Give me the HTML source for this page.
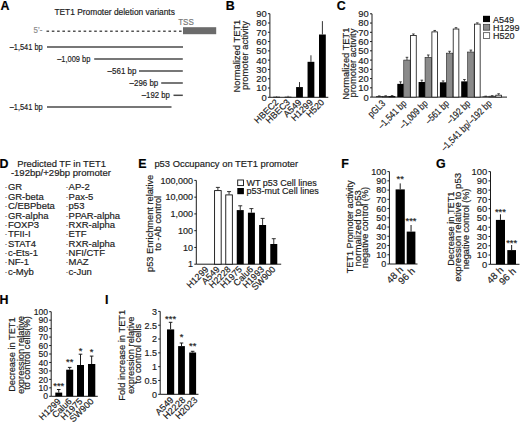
<!DOCTYPE html>
<html><head><meta charset="utf-8"><title>TET1 promoter figure</title>
<style>
html,body{margin:0;padding:0;background:#fff;}
body{width:520px;height:423px;overflow:hidden;}
svg{display:block;font-family:"Liberation Sans", sans-serif;}
text{stroke-width:0.18px;}
</style></head>
<body>
<svg width="520" height="423" viewBox="0 0 520 423" fill="#1c1c1c">
<rect width="520" height="423" fill="#fff"/>
<text x="0.40" y="9.90" font-size="12.4" fill="#000" stroke="#000" font-weight="bold">A</text>
<text x="54.40" y="15.40" font-size="8.6" stroke="#1c1c1c" textLength="120.50" lengthAdjust="spacingAndGlyphs">TET1 Promoter deletion variants</text>
<text x="33.60" y="33.40" font-size="8.8" fill="#8c8c8c" stroke="#8c8c8c" textLength="8.80" lengthAdjust="spacingAndGlyphs">5’-</text>
<text x="178.20" y="25.00" font-size="9.2" fill="#777" stroke="#777" textLength="15.60" lengthAdjust="spacingAndGlyphs">TSS</text>
<line x1="46.50" y1="31.30" x2="183.00" y2="31.30" stroke="#555" stroke-width="1.4" stroke-dasharray="2.6 2.7"/>
<rect x="183.00" y="27.20" width="33.20" height="7.00" fill="#6b6b6b"/>
<line x1="47.00" y1="47.00" x2="183.00" y2="47.00" stroke="#4a4a4a" stroke-width="1.5"/>
<text x="42.70" y="49.90" font-size="8.8" text-anchor="end" stroke="#1c1c1c" textLength="33.00" lengthAdjust="spacingAndGlyphs">–1,541 bp</text>
<line x1="94.20" y1="59.00" x2="182.80" y2="59.00" stroke="#4a4a4a" stroke-width="1.5"/>
<text x="90.40" y="61.90" font-size="8.8" text-anchor="end" stroke="#1c1c1c" textLength="33.20" lengthAdjust="spacingAndGlyphs">–1,009 bp</text>
<line x1="139.00" y1="70.90" x2="182.80" y2="70.90" stroke="#4a4a4a" stroke-width="1.5"/>
<text x="136.40" y="73.80" font-size="8.8" text-anchor="end" stroke="#1c1c1c" textLength="28.80" lengthAdjust="spacingAndGlyphs">–561 bp</text>
<line x1="161.20" y1="83.00" x2="182.80" y2="83.00" stroke="#4a4a4a" stroke-width="1.5"/>
<text x="158.20" y="85.90" font-size="8.8" text-anchor="end" stroke="#1c1c1c" textLength="28.60" lengthAdjust="spacingAndGlyphs">–296 bp</text>
<line x1="173.50" y1="95.30" x2="182.80" y2="95.30" stroke="#4a4a4a" stroke-width="1.5"/>
<text x="169.80" y="98.20" font-size="8.8" text-anchor="end" stroke="#1c1c1c" textLength="28.00" lengthAdjust="spacingAndGlyphs">–192 bp</text>
<line x1="47.00" y1="106.90" x2="171.50" y2="106.90" stroke="#4a4a4a" stroke-width="1.5"/>
<text x="42.70" y="109.80" font-size="8.8" text-anchor="end" stroke="#1c1c1c" textLength="33.00" lengthAdjust="spacingAndGlyphs">–1,541 bp</text>
<text x="225.70" y="9.70" font-size="12.4" fill="#000" stroke="#000" font-weight="bold">B</text>
<line x1="269.90" y1="13.70" x2="269.90" y2="97.30" stroke="#1c1c1c" stroke-width="1.0"/>
<line x1="267.90" y1="97.30" x2="269.90" y2="97.30" stroke="#1c1c1c" stroke-width="1.0"/>
<text x="266.70" y="100.74" font-size="9.68" text-anchor="end" stroke="#1c1c1c" textLength="5.23" lengthAdjust="spacingAndGlyphs">0</text>
<line x1="267.90" y1="88.01" x2="269.90" y2="88.01" stroke="#1c1c1c" stroke-width="1.0"/>
<text x="266.70" y="91.45" font-size="9.68" text-anchor="end" stroke="#1c1c1c" textLength="10.45" lengthAdjust="spacingAndGlyphs">10</text>
<line x1="267.90" y1="78.72" x2="269.90" y2="78.72" stroke="#1c1c1c" stroke-width="1.0"/>
<text x="266.70" y="82.16" font-size="9.68" text-anchor="end" stroke="#1c1c1c" textLength="10.45" lengthAdjust="spacingAndGlyphs">20</text>
<line x1="267.90" y1="69.43" x2="269.90" y2="69.43" stroke="#1c1c1c" stroke-width="1.0"/>
<text x="266.70" y="72.87" font-size="9.68" text-anchor="end" stroke="#1c1c1c" textLength="10.45" lengthAdjust="spacingAndGlyphs">30</text>
<line x1="267.90" y1="60.14" x2="269.90" y2="60.14" stroke="#1c1c1c" stroke-width="1.0"/>
<text x="266.70" y="63.58" font-size="9.68" text-anchor="end" stroke="#1c1c1c" textLength="10.45" lengthAdjust="spacingAndGlyphs">40</text>
<line x1="267.90" y1="50.86" x2="269.90" y2="50.86" stroke="#1c1c1c" stroke-width="1.0"/>
<text x="266.70" y="54.29" font-size="9.68" text-anchor="end" stroke="#1c1c1c" textLength="10.45" lengthAdjust="spacingAndGlyphs">50</text>
<line x1="267.90" y1="41.57" x2="269.90" y2="41.57" stroke="#1c1c1c" stroke-width="1.0"/>
<text x="266.70" y="45.00" font-size="9.68" text-anchor="end" stroke="#1c1c1c" textLength="10.45" lengthAdjust="spacingAndGlyphs">60</text>
<line x1="267.90" y1="32.28" x2="269.90" y2="32.28" stroke="#1c1c1c" stroke-width="1.0"/>
<text x="266.70" y="35.71" font-size="9.68" text-anchor="end" stroke="#1c1c1c" textLength="10.45" lengthAdjust="spacingAndGlyphs">70</text>
<line x1="267.90" y1="22.99" x2="269.90" y2="22.99" stroke="#1c1c1c" stroke-width="1.0"/>
<text x="266.70" y="26.43" font-size="9.68" text-anchor="end" stroke="#1c1c1c" textLength="10.45" lengthAdjust="spacingAndGlyphs">80</text>
<line x1="267.90" y1="13.70" x2="269.90" y2="13.70" stroke="#1c1c1c" stroke-width="1.0"/>
<text x="266.70" y="17.14" font-size="9.68" text-anchor="end" stroke="#1c1c1c" textLength="10.45" lengthAdjust="spacingAndGlyphs">90</text>
<line x1="269.90" y1="97.30" x2="328.30" y2="97.30" stroke="#1c1c1c" stroke-width="1.0"/>
<rect x="273.20" y="96.74" width="6.80" height="0.56" fill="#000"/>
<line x1="276.60" y1="96.74" x2="276.60" y2="96.19" stroke="#1c1c1c" stroke-width="0.9"/>
<text x="279.10" y="102.90" font-size="9.0" text-anchor="end" stroke="#1c1c1c" transform="rotate(-45 279.10 102.90)">HBEC2</text>
<rect x="284.65" y="96.74" width="6.80" height="0.56" fill="#000"/>
<line x1="288.05" y1="96.74" x2="288.05" y2="95.81" stroke="#1c1c1c" stroke-width="0.9"/>
<text x="290.55" y="102.90" font-size="9.0" text-anchor="end" stroke="#1c1c1c" transform="rotate(-45 290.55 102.90)">HBEC3</text>
<rect x="296.10" y="87.08" width="6.80" height="10.22" fill="#000"/>
<line x1="299.50" y1="87.08" x2="299.50" y2="82.07" stroke="#1c1c1c" stroke-width="0.9"/>
<text x="302.00" y="102.90" font-size="9.0" text-anchor="end" stroke="#1c1c1c" transform="rotate(-45 302.00 102.90)">A549</text>
<rect x="307.55" y="61.82" width="6.80" height="35.48" fill="#000"/>
<line x1="310.95" y1="61.82" x2="310.95" y2="55.31" stroke="#1c1c1c" stroke-width="0.9"/>
<text x="313.45" y="102.90" font-size="9.0" text-anchor="end" stroke="#1c1c1c" transform="rotate(-45 313.45 102.90)">H1299</text>
<rect x="319.00" y="34.51" width="6.80" height="62.79" fill="#000"/>
<line x1="322.40" y1="34.51" x2="322.40" y2="21.13" stroke="#1c1c1c" stroke-width="0.9"/>
<text x="324.90" y="102.90" font-size="9.0" text-anchor="end" stroke="#1c1c1c" transform="rotate(-45 324.90 102.90)">H520</text>
<text x="240.10" y="56.05" font-size="8.8" text-anchor="middle" stroke="#1c1c1c" textLength="72.80" lengthAdjust="spacingAndGlyphs" transform="rotate(-90 240.10 56.05)">Normalized TET1</text>
<text x="248.40" y="55.55" font-size="8.8" text-anchor="middle" stroke="#1c1c1c" textLength="69.00" lengthAdjust="spacingAndGlyphs" transform="rotate(-90 248.40 55.55)">promoter activity</text>
<text x="336.80" y="9.70" font-size="12.4" fill="#000" stroke="#000" font-weight="bold">C</text>
<line x1="372.00" y1="13.80" x2="372.00" y2="97.10" stroke="#1c1c1c" stroke-width="1.0"/>
<line x1="370.00" y1="97.10" x2="372.00" y2="97.10" stroke="#1c1c1c" stroke-width="1.0"/>
<text x="368.80" y="100.54" font-size="9.68" text-anchor="end" stroke="#1c1c1c" textLength="5.23" lengthAdjust="spacingAndGlyphs">0</text>
<line x1="370.00" y1="87.84" x2="372.00" y2="87.84" stroke="#1c1c1c" stroke-width="1.0"/>
<text x="368.80" y="91.28" font-size="9.68" text-anchor="end" stroke="#1c1c1c" textLength="10.45" lengthAdjust="spacingAndGlyphs">10</text>
<line x1="370.00" y1="78.59" x2="372.00" y2="78.59" stroke="#1c1c1c" stroke-width="1.0"/>
<text x="368.80" y="82.03" font-size="9.68" text-anchor="end" stroke="#1c1c1c" textLength="10.45" lengthAdjust="spacingAndGlyphs">20</text>
<line x1="370.00" y1="69.33" x2="372.00" y2="69.33" stroke="#1c1c1c" stroke-width="1.0"/>
<text x="368.80" y="72.77" font-size="9.68" text-anchor="end" stroke="#1c1c1c" textLength="10.45" lengthAdjust="spacingAndGlyphs">30</text>
<line x1="370.00" y1="60.08" x2="372.00" y2="60.08" stroke="#1c1c1c" stroke-width="1.0"/>
<text x="368.80" y="63.51" font-size="9.68" text-anchor="end" stroke="#1c1c1c" textLength="10.45" lengthAdjust="spacingAndGlyphs">40</text>
<line x1="370.00" y1="50.82" x2="372.00" y2="50.82" stroke="#1c1c1c" stroke-width="1.0"/>
<text x="368.80" y="54.26" font-size="9.68" text-anchor="end" stroke="#1c1c1c" textLength="10.45" lengthAdjust="spacingAndGlyphs">50</text>
<line x1="370.00" y1="41.57" x2="372.00" y2="41.57" stroke="#1c1c1c" stroke-width="1.0"/>
<text x="368.80" y="45.00" font-size="9.68" text-anchor="end" stroke="#1c1c1c" textLength="10.45" lengthAdjust="spacingAndGlyphs">60</text>
<line x1="370.00" y1="32.31" x2="372.00" y2="32.31" stroke="#1c1c1c" stroke-width="1.0"/>
<text x="368.80" y="35.75" font-size="9.68" text-anchor="end" stroke="#1c1c1c" textLength="10.45" lengthAdjust="spacingAndGlyphs">70</text>
<line x1="370.00" y1="23.06" x2="372.00" y2="23.06" stroke="#1c1c1c" stroke-width="1.0"/>
<text x="368.80" y="26.49" font-size="9.68" text-anchor="end" stroke="#1c1c1c" textLength="10.45" lengthAdjust="spacingAndGlyphs">80</text>
<line x1="370.00" y1="13.80" x2="372.00" y2="13.80" stroke="#1c1c1c" stroke-width="1.0"/>
<text x="368.80" y="17.24" font-size="9.68" text-anchor="end" stroke="#1c1c1c" textLength="10.45" lengthAdjust="spacingAndGlyphs">90</text>
<line x1="372.00" y1="97.10" x2="507.00" y2="97.10" stroke="#1c1c1c" stroke-width="1.0"/>
<rect x="376.00" y="96.36" width="6.45" height="0.74" fill="#000"/>
<line x1="379.23" y1="96.36" x2="379.23" y2="95.90" stroke="#1c1c1c" stroke-width="0.8"/>
<line x1="377.93" y1="95.90" x2="380.53" y2="95.90" stroke="#1c1c1c" stroke-width="0.8"/>
<rect x="382.45" y="96.27" width="6.45" height="0.83" fill="#8a8a8a" stroke="#222" stroke-width="0.6"/>
<line x1="385.68" y1="96.27" x2="385.68" y2="95.80" stroke="#1c1c1c" stroke-width="0.8"/>
<line x1="384.38" y1="95.80" x2="386.98" y2="95.80" stroke="#1c1c1c" stroke-width="0.8"/>
<rect x="389.30" y="96.57" width="5.65" height="0.53" fill="#fff" stroke="#111" stroke-width="0.8"/>
<line x1="392.12" y1="96.17" x2="392.12" y2="95.62" stroke="#1c1c1c" stroke-width="0.8"/>
<line x1="390.82" y1="95.62" x2="393.43" y2="95.62" stroke="#1c1c1c" stroke-width="0.8"/>
<text x="385.88" y="104.10" font-size="9.8" text-anchor="end" stroke="#1c1c1c" textLength="19.80" lengthAdjust="spacingAndGlyphs" transform="rotate(-45 385.88 104.10)">pGL3</text>
<rect x="397.30" y="83.86" width="6.45" height="13.24" fill="#000"/>
<line x1="400.53" y1="83.86" x2="400.53" y2="81.83" stroke="#1c1c1c" stroke-width="0.8"/>
<line x1="399.23" y1="81.83" x2="401.83" y2="81.83" stroke="#1c1c1c" stroke-width="0.8"/>
<rect x="403.75" y="60.08" width="6.45" height="37.02" fill="#8a8a8a" stroke="#222" stroke-width="0.6"/>
<line x1="406.98" y1="60.08" x2="406.98" y2="57.30" stroke="#1c1c1c" stroke-width="0.8"/>
<line x1="405.68" y1="57.30" x2="408.28" y2="57.30" stroke="#1c1c1c" stroke-width="0.8"/>
<rect x="410.60" y="35.49" width="5.65" height="61.61" fill="#fff" stroke="#111" stroke-width="0.8"/>
<line x1="413.43" y1="35.09" x2="413.43" y2="33.98" stroke="#1c1c1c" stroke-width="0.8"/>
<line x1="412.12" y1="33.98" x2="414.73" y2="33.98" stroke="#1c1c1c" stroke-width="0.8"/>
<text x="407.18" y="104.10" font-size="9.8" text-anchor="end" stroke="#1c1c1c" textLength="36.01" lengthAdjust="spacingAndGlyphs" transform="rotate(-45 407.18 104.10)">–1,541 bp</text>
<rect x="418.60" y="82.01" width="6.45" height="15.09" fill="#000"/>
<line x1="421.83" y1="82.01" x2="421.83" y2="80.16" stroke="#1c1c1c" stroke-width="0.8"/>
<line x1="420.53" y1="80.16" x2="423.13" y2="80.16" stroke="#1c1c1c" stroke-width="0.8"/>
<rect x="425.05" y="57.30" width="6.45" height="39.80" fill="#8a8a8a" stroke="#222" stroke-width="0.6"/>
<line x1="428.28" y1="57.30" x2="428.28" y2="54.99" stroke="#1c1c1c" stroke-width="0.8"/>
<line x1="426.98" y1="54.99" x2="429.58" y2="54.99" stroke="#1c1c1c" stroke-width="0.8"/>
<rect x="431.90" y="31.88" width="5.65" height="65.22" fill="#fff" stroke="#111" stroke-width="0.8"/>
<line x1="434.73" y1="31.48" x2="434.73" y2="30.46" stroke="#1c1c1c" stroke-width="0.8"/>
<line x1="433.43" y1="30.46" x2="436.03" y2="30.46" stroke="#1c1c1c" stroke-width="0.8"/>
<text x="428.48" y="104.10" font-size="9.8" text-anchor="end" stroke="#1c1c1c" textLength="36.01" lengthAdjust="spacingAndGlyphs" transform="rotate(-45 428.48 104.10)">–1,009 bp</text>
<rect x="439.90" y="82.29" width="6.45" height="14.81" fill="#000"/>
<line x1="443.12" y1="82.29" x2="443.12" y2="80.90" stroke="#1c1c1c" stroke-width="0.8"/>
<line x1="441.82" y1="80.90" x2="444.43" y2="80.90" stroke="#1c1c1c" stroke-width="0.8"/>
<rect x="446.35" y="53.14" width="6.45" height="43.96" fill="#8a8a8a" stroke="#222" stroke-width="0.6"/>
<line x1="449.57" y1="53.14" x2="449.57" y2="51.28" stroke="#1c1c1c" stroke-width="0.8"/>
<line x1="448.27" y1="51.28" x2="450.88" y2="51.28" stroke="#1c1c1c" stroke-width="0.8"/>
<rect x="453.20" y="29.01" width="5.65" height="68.09" fill="#fff" stroke="#111" stroke-width="0.8"/>
<line x1="456.02" y1="28.61" x2="456.02" y2="27.68" stroke="#1c1c1c" stroke-width="0.8"/>
<line x1="454.72" y1="27.68" x2="457.32" y2="27.68" stroke="#1c1c1c" stroke-width="0.8"/>
<text x="449.77" y="104.10" font-size="9.8" text-anchor="end" stroke="#1c1c1c" textLength="29.26" lengthAdjust="spacingAndGlyphs" transform="rotate(-45 449.77 104.10)">–561 bp</text>
<rect x="461.20" y="81.37" width="6.45" height="15.73" fill="#000"/>
<line x1="464.43" y1="81.37" x2="464.43" y2="79.51" stroke="#1c1c1c" stroke-width="0.8"/>
<line x1="463.12" y1="79.51" x2="465.73" y2="79.51" stroke="#1c1c1c" stroke-width="0.8"/>
<rect x="467.65" y="52.03" width="6.45" height="45.07" fill="#8a8a8a" stroke="#222" stroke-width="0.6"/>
<line x1="470.88" y1="52.03" x2="470.88" y2="50.08" stroke="#1c1c1c" stroke-width="0.8"/>
<line x1="469.57" y1="50.08" x2="472.18" y2="50.08" stroke="#1c1c1c" stroke-width="0.8"/>
<rect x="474.50" y="24.10" width="5.65" height="73.00" fill="#fff" stroke="#111" stroke-width="0.8"/>
<line x1="477.32" y1="23.70" x2="477.32" y2="22.87" stroke="#1c1c1c" stroke-width="0.8"/>
<line x1="476.02" y1="22.87" x2="478.62" y2="22.87" stroke="#1c1c1c" stroke-width="0.8"/>
<text x="471.07" y="104.10" font-size="9.8" text-anchor="end" stroke="#1c1c1c" textLength="29.26" lengthAdjust="spacingAndGlyphs" transform="rotate(-45 471.07 104.10)">–192 bp</text>
<rect x="482.50" y="96.54" width="6.45" height="0.56" fill="#000"/>
<line x1="485.73" y1="96.54" x2="485.73" y2="96.17" stroke="#1c1c1c" stroke-width="0.8"/>
<line x1="484.43" y1="96.17" x2="487.03" y2="96.17" stroke="#1c1c1c" stroke-width="0.8"/>
<rect x="488.95" y="96.17" width="6.45" height="0.93" fill="#8a8a8a" stroke="#222" stroke-width="0.6"/>
<line x1="492.18" y1="96.17" x2="492.18" y2="95.71" stroke="#1c1c1c" stroke-width="0.8"/>
<line x1="490.88" y1="95.71" x2="493.48" y2="95.71" stroke="#1c1c1c" stroke-width="0.8"/>
<rect x="495.80" y="95.19" width="5.65" height="1.91" fill="#fff" stroke="#111" stroke-width="0.8"/>
<line x1="498.62" y1="94.79" x2="498.62" y2="93.77" stroke="#1c1c1c" stroke-width="0.8"/>
<line x1="497.32" y1="93.77" x2="499.93" y2="93.77" stroke="#1c1c1c" stroke-width="0.8"/>
<text x="492.38" y="104.10" font-size="9.8" text-anchor="end" stroke="#1c1c1c" textLength="67.52" lengthAdjust="spacingAndGlyphs" transform="rotate(-45 492.38 104.10)">–1,541 bp/–192 bp</text>
<rect x="483.00" y="15.80" width="7.00" height="6.30" fill="#000"/>
<rect x="483.40" y="24.30" width="6.30" height="5.90" fill="#8a8a8a" stroke="#333" stroke-width="0.7"/>
<rect x="483.40" y="32.70" width="6.30" height="5.90" fill="#fff" stroke="#333" stroke-width="0.7"/>
<text x="493.00" y="22.60" font-size="9.0" stroke="#1c1c1c">A549</text>
<text x="493.00" y="30.90" font-size="9.0" stroke="#1c1c1c">H1299</text>
<text x="493.00" y="39.20" font-size="9.0" stroke="#1c1c1c">H520</text>
<text x="348.80" y="63.65" font-size="8.8" text-anchor="middle" stroke="#1c1c1c" textLength="72.00" lengthAdjust="spacingAndGlyphs" transform="rotate(-90 348.80 63.65)">Normalized TET1</text>
<text x="356.00" y="63.10" font-size="8.8" text-anchor="middle" stroke="#1c1c1c" textLength="68.90" lengthAdjust="spacingAndGlyphs" transform="rotate(-90 356.00 63.10)">promoter activity</text>
<text x="-0.60" y="168.30" font-size="12.4" fill="#000" stroke="#000" font-weight="bold">D</text>
<text x="17.20" y="166.60" font-size="9.4" stroke="#1c1c1c" textLength="88.90" lengthAdjust="spacingAndGlyphs">Predicted TF in TET1</text>
<text x="10.90" y="175.50" font-size="9.4" stroke="#1c1c1c" textLength="100.00" lengthAdjust="spacingAndGlyphs">-192bp/+29bp promoter</text>
<text x="4.50" y="190.40" font-size="9.0" fill="#666" stroke="#666">·</text>
<text x="7.90" y="190.40" font-size="9.3" stroke="#1c1c1c" textLength="14.23" lengthAdjust="spacingAndGlyphs">GR</text>
<text x="65.60" y="190.40" font-size="9.0" fill="#666" stroke="#666">·</text>
<text x="68.60" y="190.40" font-size="9.3" stroke="#1c1c1c" textLength="21.09" lengthAdjust="spacingAndGlyphs">AP-2</text>
<text x="4.50" y="199.78" font-size="9.0" fill="#666" stroke="#666">·</text>
<text x="7.90" y="199.78" font-size="9.3" stroke="#1c1c1c" textLength="35.85" lengthAdjust="spacingAndGlyphs">GR-beta</text>
<text x="65.60" y="199.78" font-size="9.0" fill="#666" stroke="#666">·</text>
<text x="68.60" y="199.78" font-size="9.3" stroke="#1c1c1c" textLength="24.78" lengthAdjust="spacingAndGlyphs">Pax-5</text>
<text x="4.50" y="209.16" font-size="9.0" fill="#666" stroke="#666">·</text>
<text x="7.90" y="209.16" font-size="9.3" stroke="#1c1c1c" textLength="46.93" lengthAdjust="spacingAndGlyphs">C/EBPbeta</text>
<text x="65.60" y="209.16" font-size="9.0" fill="#666" stroke="#666">·</text>
<text x="68.60" y="209.16" font-size="9.3" stroke="#1c1c1c" textLength="15.83" lengthAdjust="spacingAndGlyphs">p53</text>
<text x="4.50" y="218.54" font-size="9.0" fill="#666" stroke="#666">·</text>
<text x="7.90" y="218.54" font-size="9.3" stroke="#1c1c1c" textLength="40.60" lengthAdjust="spacingAndGlyphs">GR-alpha</text>
<text x="65.60" y="218.54" font-size="9.0" fill="#666" stroke="#666">·</text>
<text x="68.60" y="218.54" font-size="9.3" stroke="#1c1c1c" textLength="51.50" lengthAdjust="spacingAndGlyphs">PPAR-alpha</text>
<text x="4.50" y="227.92" font-size="9.0" fill="#666" stroke="#666">·</text>
<text x="7.90" y="227.92" font-size="9.3" stroke="#1c1c1c" textLength="31.10" lengthAdjust="spacingAndGlyphs">FOXP3</text>
<text x="65.60" y="227.92" font-size="9.0" fill="#666" stroke="#666">·</text>
<text x="68.60" y="227.92" font-size="9.3" stroke="#1c1c1c" textLength="46.40" lengthAdjust="spacingAndGlyphs">RXR-alpha</text>
<text x="4.50" y="237.30" font-size="9.0" fill="#666" stroke="#666">·</text>
<text x="7.90" y="237.30" font-size="9.3" stroke="#1c1c1c" textLength="22.65" lengthAdjust="spacingAndGlyphs">TFII-I</text>
<text x="65.60" y="237.30" font-size="9.0" fill="#666" stroke="#666">·</text>
<text x="68.60" y="237.30" font-size="9.3" stroke="#1c1c1c" textLength="17.92" lengthAdjust="spacingAndGlyphs">ETF</text>
<text x="4.50" y="246.68" font-size="9.0" fill="#666" stroke="#666">·</text>
<text x="7.90" y="246.68" font-size="9.3" stroke="#1c1c1c" textLength="28.11" lengthAdjust="spacingAndGlyphs">STAT4</text>
<text x="65.60" y="246.68" font-size="9.0" fill="#666" stroke="#666">·</text>
<text x="68.60" y="246.68" font-size="9.3" stroke="#1c1c1c" textLength="46.40" lengthAdjust="spacingAndGlyphs">RXR-alpha</text>
<text x="4.50" y="256.06" font-size="9.0" fill="#666" stroke="#666">·</text>
<text x="7.90" y="256.06" font-size="9.3" stroke="#1c1c1c" textLength="30.04" lengthAdjust="spacingAndGlyphs">c-Ets-1</text>
<text x="65.60" y="256.06" font-size="9.0" fill="#666" stroke="#666">·</text>
<text x="68.60" y="256.06" font-size="9.3" stroke="#1c1c1c" textLength="36.35" lengthAdjust="spacingAndGlyphs">NFI/CTF</text>
<text x="4.50" y="265.44" font-size="9.0" fill="#666" stroke="#666">·</text>
<text x="7.90" y="265.44" font-size="9.3" stroke="#1c1c1c" textLength="21.08" lengthAdjust="spacingAndGlyphs">NF-1</text>
<text x="65.60" y="265.44" font-size="9.0" fill="#666" stroke="#666">·</text>
<text x="68.60" y="265.44" font-size="9.3" stroke="#1c1c1c" textLength="20.02" lengthAdjust="spacingAndGlyphs">MAZ</text>
<text x="4.50" y="274.82" font-size="9.0" fill="#666" stroke="#666">·</text>
<text x="7.90" y="274.82" font-size="9.3" stroke="#1c1c1c" textLength="25.82" lengthAdjust="spacingAndGlyphs">c-Myb</text>
<text x="65.60" y="274.82" font-size="9.0" fill="#666" stroke="#666">·</text>
<text x="68.60" y="274.82" font-size="9.3" stroke="#1c1c1c" textLength="23.19" lengthAdjust="spacingAndGlyphs">c-Jun</text>
<text x="138.20" y="168.20" font-size="12.4" fill="#000" stroke="#000" font-weight="bold">E</text>
<text x="154.40" y="166.90" font-size="9.4" stroke="#1c1c1c" textLength="143.70" lengthAdjust="spacingAndGlyphs">p53 Occupancy on TET1 promoter</text>
<line x1="196.30" y1="180.40" x2="196.30" y2="264.20" stroke="#1c1c1c" stroke-width="1.0"/>
<line x1="194.30" y1="264.20" x2="196.30" y2="264.20" stroke="#1c1c1c" stroke-width="1.0"/>
<text x="193.10" y="267.49" font-size="9.27" text-anchor="end" stroke="#1c1c1c" textLength="5.00" lengthAdjust="spacingAndGlyphs">1</text>
<line x1="194.30" y1="247.44" x2="196.30" y2="247.44" stroke="#1c1c1c" stroke-width="1.0"/>
<text x="193.10" y="250.73" font-size="9.27" text-anchor="end" stroke="#1c1c1c" textLength="10.01" lengthAdjust="spacingAndGlyphs">10</text>
<line x1="194.30" y1="230.68" x2="196.30" y2="230.68" stroke="#1c1c1c" stroke-width="1.0"/>
<text x="193.10" y="233.97" font-size="9.27" text-anchor="end" stroke="#1c1c1c" textLength="15.01" lengthAdjust="spacingAndGlyphs">100</text>
<line x1="194.30" y1="213.92" x2="196.30" y2="213.92" stroke="#1c1c1c" stroke-width="1.0"/>
<text x="193.10" y="217.21" font-size="9.27" text-anchor="end" stroke="#1c1c1c" textLength="22.52" lengthAdjust="spacingAndGlyphs">1,000</text>
<line x1="194.30" y1="197.16" x2="196.30" y2="197.16" stroke="#1c1c1c" stroke-width="1.0"/>
<text x="193.10" y="200.45" font-size="9.27" text-anchor="end" stroke="#1c1c1c" textLength="27.52" lengthAdjust="spacingAndGlyphs">10,000</text>
<line x1="194.30" y1="180.40" x2="196.30" y2="180.40" stroke="#1c1c1c" stroke-width="1.0"/>
<text x="193.10" y="183.69" font-size="9.27" text-anchor="end" stroke="#1c1c1c" textLength="32.53" lengthAdjust="spacingAndGlyphs">100,000</text>
<line x1="196.30" y1="264.20" x2="281.20" y2="264.20" stroke="#1c1c1c" stroke-width="1.0"/>
<text x="209.00" y="270.00" font-size="9.0" text-anchor="end" stroke="#1c1c1c" transform="rotate(-45 209.00 270.00)">H1299</text>
<rect x="214.58" y="190.60" width="6.60" height="73.60" fill="#fff" stroke="#111" stroke-width="0.9"/>
<line x1="217.88" y1="190.20" x2="217.88" y2="187.40" stroke="#1c1c1c" stroke-width="0.9"/>
<line x1="215.88" y1="187.40" x2="219.88" y2="187.40" stroke="#1c1c1c" stroke-width="0.9"/>
<text x="220.18" y="270.00" font-size="9.0" text-anchor="end" stroke="#1c1c1c" transform="rotate(-45 220.18 270.00)">A549</text>
<rect x="225.76" y="194.90" width="6.60" height="69.30" fill="#fff" stroke="#111" stroke-width="0.9"/>
<line x1="229.06" y1="194.50" x2="229.06" y2="191.60" stroke="#1c1c1c" stroke-width="0.9"/>
<line x1="227.06" y1="191.60" x2="231.06" y2="191.60" stroke="#1c1c1c" stroke-width="0.9"/>
<text x="231.36" y="270.00" font-size="9.0" text-anchor="end" stroke="#1c1c1c" transform="rotate(-45 231.36 270.00)">H2228</text>
<rect x="236.74" y="210.10" width="7.00" height="54.10" fill="#000"/>
<line x1="240.24" y1="210.10" x2="240.24" y2="205.80" stroke="#1c1c1c" stroke-width="0.9"/>
<line x1="238.24" y1="205.80" x2="242.24" y2="205.80" stroke="#1c1c1c" stroke-width="0.9"/>
<text x="242.54" y="270.00" font-size="9.0" text-anchor="end" stroke="#1c1c1c" transform="rotate(-45 242.54 270.00)">H1975</text>
<rect x="247.92" y="212.70" width="7.00" height="51.50" fill="#000"/>
<line x1="251.42" y1="212.70" x2="251.42" y2="208.60" stroke="#1c1c1c" stroke-width="0.9"/>
<line x1="249.42" y1="208.60" x2="253.42" y2="208.60" stroke="#1c1c1c" stroke-width="0.9"/>
<text x="253.72" y="270.00" font-size="9.0" text-anchor="end" stroke="#1c1c1c" transform="rotate(-45 253.72 270.00)">Calu6</text>
<rect x="259.10" y="225.00" width="7.00" height="39.20" fill="#000"/>
<line x1="262.60" y1="225.00" x2="262.60" y2="218.40" stroke="#1c1c1c" stroke-width="0.9"/>
<line x1="260.60" y1="218.40" x2="264.60" y2="218.40" stroke="#1c1c1c" stroke-width="0.9"/>
<text x="264.90" y="270.00" font-size="9.0" text-anchor="end" stroke="#1c1c1c" transform="rotate(-45 264.90 270.00)">H1993</text>
<rect x="270.28" y="244.00" width="7.00" height="20.20" fill="#000"/>
<line x1="273.78" y1="244.00" x2="273.78" y2="238.70" stroke="#1c1c1c" stroke-width="0.9"/>
<line x1="271.78" y1="238.70" x2="275.78" y2="238.70" stroke="#1c1c1c" stroke-width="0.9"/>
<text x="276.08" y="270.00" font-size="9.0" text-anchor="end" stroke="#1c1c1c" transform="rotate(-45 276.08 270.00)">SW900</text>
<rect x="237.70" y="180.00" width="5.80" height="5.60" fill="#fff" stroke="#111" stroke-width="0.9"/>
<rect x="237.30" y="188.00" width="6.60" height="6.20" fill="#000"/>
<text x="246.50" y="185.80" font-size="9.0" stroke="#1c1c1c" textLength="70.20" lengthAdjust="spacingAndGlyphs">WT p53 Cell lines</text>
<text x="246.50" y="193.70" font-size="9.0" stroke="#1c1c1c" textLength="72.20" lengthAdjust="spacingAndGlyphs">p53-mut Cell lines</text>
<text x="153.20" y="223.35" font-size="8.8" text-anchor="middle" stroke="#1c1c1c" textLength="97.20" lengthAdjust="spacingAndGlyphs" transform="rotate(-90 153.20 223.35)">p53 Enrichment relative</text>
<text x="160.70" y="223.25" font-size="8.8" text-anchor="middle" stroke="#1c1c1c" textLength="54.80" lengthAdjust="spacingAndGlyphs" transform="rotate(-90 160.70 223.25)">to -Ab control</text>
<text x="341.30" y="167.80" font-size="12.4" fill="#000" stroke="#000" font-weight="bold">F</text>
<line x1="389.40" y1="171.60" x2="389.40" y2="264.00" stroke="#1c1c1c" stroke-width="1.0"/>
<line x1="387.40" y1="264.00" x2="389.40" y2="264.00" stroke="#1c1c1c" stroke-width="1.0"/>
<text x="386.20" y="267.29" font-size="9.27" text-anchor="end" stroke="#1c1c1c" textLength="5.00" lengthAdjust="spacingAndGlyphs">0</text>
<line x1="387.40" y1="254.76" x2="389.40" y2="254.76" stroke="#1c1c1c" stroke-width="1.0"/>
<text x="386.20" y="258.05" font-size="9.27" text-anchor="end" stroke="#1c1c1c" textLength="10.01" lengthAdjust="spacingAndGlyphs">10</text>
<line x1="387.40" y1="245.52" x2="389.40" y2="245.52" stroke="#1c1c1c" stroke-width="1.0"/>
<text x="386.20" y="248.81" font-size="9.27" text-anchor="end" stroke="#1c1c1c" textLength="10.01" lengthAdjust="spacingAndGlyphs">20</text>
<line x1="387.40" y1="236.28" x2="389.40" y2="236.28" stroke="#1c1c1c" stroke-width="1.0"/>
<text x="386.20" y="239.57" font-size="9.27" text-anchor="end" stroke="#1c1c1c" textLength="10.01" lengthAdjust="spacingAndGlyphs">30</text>
<line x1="387.40" y1="227.04" x2="389.40" y2="227.04" stroke="#1c1c1c" stroke-width="1.0"/>
<text x="386.20" y="230.33" font-size="9.27" text-anchor="end" stroke="#1c1c1c" textLength="10.01" lengthAdjust="spacingAndGlyphs">40</text>
<line x1="387.40" y1="217.80" x2="389.40" y2="217.80" stroke="#1c1c1c" stroke-width="1.0"/>
<text x="386.20" y="221.09" font-size="9.27" text-anchor="end" stroke="#1c1c1c" textLength="10.01" lengthAdjust="spacingAndGlyphs">50</text>
<line x1="387.40" y1="208.56" x2="389.40" y2="208.56" stroke="#1c1c1c" stroke-width="1.0"/>
<text x="386.20" y="211.85" font-size="9.27" text-anchor="end" stroke="#1c1c1c" textLength="10.01" lengthAdjust="spacingAndGlyphs">60</text>
<line x1="387.40" y1="199.32" x2="389.40" y2="199.32" stroke="#1c1c1c" stroke-width="1.0"/>
<text x="386.20" y="202.61" font-size="9.27" text-anchor="end" stroke="#1c1c1c" textLength="10.01" lengthAdjust="spacingAndGlyphs">70</text>
<line x1="387.40" y1="190.08" x2="389.40" y2="190.08" stroke="#1c1c1c" stroke-width="1.0"/>
<text x="386.20" y="193.37" font-size="9.27" text-anchor="end" stroke="#1c1c1c" textLength="10.01" lengthAdjust="spacingAndGlyphs">80</text>
<line x1="387.40" y1="180.84" x2="389.40" y2="180.84" stroke="#1c1c1c" stroke-width="1.0"/>
<text x="386.20" y="184.13" font-size="9.27" text-anchor="end" stroke="#1c1c1c" textLength="10.01" lengthAdjust="spacingAndGlyphs">90</text>
<line x1="387.40" y1="171.60" x2="389.40" y2="171.60" stroke="#1c1c1c" stroke-width="1.0"/>
<text x="386.20" y="174.89" font-size="9.27" text-anchor="end" stroke="#1c1c1c" textLength="15.01" lengthAdjust="spacingAndGlyphs">100</text>
<line x1="389.40" y1="264.00" x2="417.50" y2="264.00" stroke="#1c1c1c" stroke-width="1.0"/>
<rect x="395.60" y="189.40" width="9.20" height="74.60" fill="#000"/>
<line x1="400.20" y1="189.40" x2="400.20" y2="183.40" stroke="#1c1c1c" stroke-width="1.0"/>
<text x="400.20" y="182.29" font-size="9.4" text-anchor="middle" stroke="#1c1c1c">**</text>
<rect x="406.70" y="231.60" width="8.70" height="32.40" fill="#000"/>
<line x1="411.05" y1="231.60" x2="411.05" y2="225.00" stroke="#1c1c1c" stroke-width="1.0"/>
<text x="411.05" y="224.39" font-size="9.4" text-anchor="middle" stroke="#1c1c1c">***</text>
<text x="403.90" y="270.40" font-size="9.8" text-anchor="end" stroke="#1c1c1c" transform="rotate(-45 403.90 270.40)">48 h</text>
<text x="415.60" y="271.60" font-size="9.8" text-anchor="end" stroke="#1c1c1c" transform="rotate(-45 415.60 271.60)">96 h</text>
<text x="353.50" y="226.85" font-size="8.8" text-anchor="middle" stroke="#1c1c1c" textLength="92.70" lengthAdjust="spacingAndGlyphs" transform="rotate(-90 353.50 226.85)">TET1 Promoter activity</text>
<text x="360.60" y="228.30" font-size="8.8" text-anchor="middle" stroke="#1c1c1c" textLength="76.40" lengthAdjust="spacingAndGlyphs" transform="rotate(-90 360.60 228.30)">normalized to p53</text>
<text x="368.00" y="227.55" font-size="8.8" text-anchor="middle" stroke="#1c1c1c" textLength="81.30" lengthAdjust="spacingAndGlyphs" transform="rotate(-90 368.00 227.55)">negative control (%)</text>
<text x="436.00" y="168.00" font-size="12.4" fill="#000" stroke="#000" font-weight="bold">G</text>
<line x1="490.50" y1="171.60" x2="490.50" y2="264.30" stroke="#1c1c1c" stroke-width="1.0"/>
<line x1="488.50" y1="264.30" x2="490.50" y2="264.30" stroke="#1c1c1c" stroke-width="1.0"/>
<text x="487.30" y="267.74" font-size="9.68" text-anchor="end" stroke="#1c1c1c" textLength="5.23" lengthAdjust="spacingAndGlyphs">0</text>
<line x1="488.50" y1="255.03" x2="490.50" y2="255.03" stroke="#1c1c1c" stroke-width="1.0"/>
<text x="487.30" y="258.47" font-size="9.68" text-anchor="end" stroke="#1c1c1c" textLength="10.45" lengthAdjust="spacingAndGlyphs">10</text>
<line x1="488.50" y1="245.76" x2="490.50" y2="245.76" stroke="#1c1c1c" stroke-width="1.0"/>
<text x="487.30" y="249.20" font-size="9.68" text-anchor="end" stroke="#1c1c1c" textLength="10.45" lengthAdjust="spacingAndGlyphs">20</text>
<line x1="488.50" y1="236.49" x2="490.50" y2="236.49" stroke="#1c1c1c" stroke-width="1.0"/>
<text x="487.30" y="239.93" font-size="9.68" text-anchor="end" stroke="#1c1c1c" textLength="10.45" lengthAdjust="spacingAndGlyphs">30</text>
<line x1="488.50" y1="227.22" x2="490.50" y2="227.22" stroke="#1c1c1c" stroke-width="1.0"/>
<text x="487.30" y="230.66" font-size="9.68" text-anchor="end" stroke="#1c1c1c" textLength="10.45" lengthAdjust="spacingAndGlyphs">40</text>
<line x1="488.50" y1="217.95" x2="490.50" y2="217.95" stroke="#1c1c1c" stroke-width="1.0"/>
<text x="487.30" y="221.39" font-size="9.68" text-anchor="end" stroke="#1c1c1c" textLength="10.45" lengthAdjust="spacingAndGlyphs">50</text>
<line x1="488.50" y1="208.68" x2="490.50" y2="208.68" stroke="#1c1c1c" stroke-width="1.0"/>
<text x="487.30" y="212.12" font-size="9.68" text-anchor="end" stroke="#1c1c1c" textLength="10.45" lengthAdjust="spacingAndGlyphs">60</text>
<line x1="488.50" y1="199.41" x2="490.50" y2="199.41" stroke="#1c1c1c" stroke-width="1.0"/>
<text x="487.30" y="202.85" font-size="9.68" text-anchor="end" stroke="#1c1c1c" textLength="10.45" lengthAdjust="spacingAndGlyphs">70</text>
<line x1="488.50" y1="190.14" x2="490.50" y2="190.14" stroke="#1c1c1c" stroke-width="1.0"/>
<text x="487.30" y="193.58" font-size="9.68" text-anchor="end" stroke="#1c1c1c" textLength="10.45" lengthAdjust="spacingAndGlyphs">80</text>
<line x1="488.50" y1="180.87" x2="490.50" y2="180.87" stroke="#1c1c1c" stroke-width="1.0"/>
<text x="487.30" y="184.31" font-size="9.68" text-anchor="end" stroke="#1c1c1c" textLength="10.45" lengthAdjust="spacingAndGlyphs">90</text>
<line x1="488.50" y1="171.60" x2="490.50" y2="171.60" stroke="#1c1c1c" stroke-width="1.0"/>
<text x="487.30" y="175.04" font-size="9.68" text-anchor="end" stroke="#1c1c1c" textLength="15.68" lengthAdjust="spacingAndGlyphs">100</text>
<line x1="490.50" y1="264.30" x2="519.50" y2="264.30" stroke="#1c1c1c" stroke-width="1.0"/>
<rect x="495.90" y="219.90" width="9.10" height="44.40" fill="#000"/>
<line x1="500.45" y1="219.90" x2="500.45" y2="214.30" stroke="#1c1c1c" stroke-width="1.0"/>
<text x="500.45" y="215.39" font-size="9.4" text-anchor="middle" stroke="#1c1c1c">***</text>
<rect x="507.30" y="250.10" width="8.70" height="14.20" fill="#000"/>
<line x1="511.65" y1="250.10" x2="511.65" y2="245.00" stroke="#1c1c1c" stroke-width="1.0"/>
<text x="511.65" y="245.69" font-size="9.4" text-anchor="middle" stroke="#1c1c1c">***</text>
<text x="504.20" y="270.70" font-size="9.8" text-anchor="end" stroke="#1c1c1c" transform="rotate(-45 504.20 270.70)">48 h</text>
<text x="516.50" y="272.00" font-size="9.8" text-anchor="end" stroke="#1c1c1c" transform="rotate(-45 516.50 272.00)">96 h</text>
<text x="453.60" y="228.65" font-size="8.8" text-anchor="middle" stroke="#1c1c1c" textLength="74.30" lengthAdjust="spacingAndGlyphs" transform="rotate(-90 453.60 228.65)">Decrease in TET1</text>
<text x="460.90" y="227.35" font-size="8.8" text-anchor="middle" stroke="#1c1c1c" textLength="108.70" lengthAdjust="spacingAndGlyphs" transform="rotate(-90 460.90 227.35)">expression relative to p53</text>
<text x="469.40" y="228.95" font-size="8.8" text-anchor="middle" stroke="#1c1c1c" textLength="80.70" lengthAdjust="spacingAndGlyphs" transform="rotate(-90 469.40 228.95)">negative control (%)</text>
<text x="-0.60" y="304.20" font-size="12.4" fill="#000" stroke="#000" font-weight="bold">H</text>
<line x1="51.20" y1="311.70" x2="51.20" y2="396.30" stroke="#1c1c1c" stroke-width="1.0"/>
<line x1="49.20" y1="396.30" x2="51.20" y2="396.30" stroke="#1c1c1c" stroke-width="1.0"/>
<text x="48.00" y="399.44" font-size="8.86" text-anchor="end" stroke="#1c1c1c" textLength="4.78" lengthAdjust="spacingAndGlyphs">0</text>
<line x1="49.20" y1="387.84" x2="51.20" y2="387.84" stroke="#1c1c1c" stroke-width="1.0"/>
<text x="48.00" y="390.98" font-size="8.86" text-anchor="end" stroke="#1c1c1c" textLength="9.56" lengthAdjust="spacingAndGlyphs">10</text>
<line x1="49.20" y1="379.38" x2="51.20" y2="379.38" stroke="#1c1c1c" stroke-width="1.0"/>
<text x="48.00" y="382.52" font-size="8.86" text-anchor="end" stroke="#1c1c1c" textLength="9.56" lengthAdjust="spacingAndGlyphs">20</text>
<line x1="49.20" y1="370.92" x2="51.20" y2="370.92" stroke="#1c1c1c" stroke-width="1.0"/>
<text x="48.00" y="374.06" font-size="8.86" text-anchor="end" stroke="#1c1c1c" textLength="9.56" lengthAdjust="spacingAndGlyphs">30</text>
<line x1="49.20" y1="362.46" x2="51.20" y2="362.46" stroke="#1c1c1c" stroke-width="1.0"/>
<text x="48.00" y="365.60" font-size="8.86" text-anchor="end" stroke="#1c1c1c" textLength="9.56" lengthAdjust="spacingAndGlyphs">40</text>
<line x1="49.20" y1="354.00" x2="51.20" y2="354.00" stroke="#1c1c1c" stroke-width="1.0"/>
<text x="48.00" y="357.14" font-size="8.86" text-anchor="end" stroke="#1c1c1c" textLength="9.56" lengthAdjust="spacingAndGlyphs">50</text>
<line x1="49.20" y1="345.54" x2="51.20" y2="345.54" stroke="#1c1c1c" stroke-width="1.0"/>
<text x="48.00" y="348.68" font-size="8.86" text-anchor="end" stroke="#1c1c1c" textLength="9.56" lengthAdjust="spacingAndGlyphs">60</text>
<line x1="49.20" y1="337.08" x2="51.20" y2="337.08" stroke="#1c1c1c" stroke-width="1.0"/>
<text x="48.00" y="340.22" font-size="8.86" text-anchor="end" stroke="#1c1c1c" textLength="9.56" lengthAdjust="spacingAndGlyphs">70</text>
<line x1="49.20" y1="328.62" x2="51.20" y2="328.62" stroke="#1c1c1c" stroke-width="1.0"/>
<text x="48.00" y="331.76" font-size="8.86" text-anchor="end" stroke="#1c1c1c" textLength="9.56" lengthAdjust="spacingAndGlyphs">80</text>
<line x1="49.20" y1="320.16" x2="51.20" y2="320.16" stroke="#1c1c1c" stroke-width="1.0"/>
<text x="48.00" y="323.30" font-size="8.86" text-anchor="end" stroke="#1c1c1c" textLength="9.56" lengthAdjust="spacingAndGlyphs">90</text>
<line x1="49.20" y1="311.70" x2="51.20" y2="311.70" stroke="#1c1c1c" stroke-width="1.0"/>
<text x="48.00" y="314.84" font-size="8.86" text-anchor="end" stroke="#1c1c1c" textLength="14.35" lengthAdjust="spacingAndGlyphs">100</text>
<line x1="51.20" y1="396.30" x2="97.80" y2="396.30" stroke="#1c1c1c" stroke-width="1.0"/>
<rect x="55.30" y="392.60" width="6.90" height="3.70" fill="#000"/>
<line x1="58.75" y1="392.60" x2="58.75" y2="389.50" stroke="#1c1c1c" stroke-width="1.0"/>
<line x1="56.95" y1="389.50" x2="60.55" y2="389.50" stroke="#1c1c1c" stroke-width="1.0"/>
<text x="58.75" y="389.19" font-size="9.4" text-anchor="middle" stroke="#1c1c1c">***</text>
<text x="61.35" y="401.90" font-size="9.0" text-anchor="end" stroke="#1c1c1c" transform="rotate(-45 61.35 401.90)">H1299</text>
<rect x="66.20" y="369.70" width="7.00" height="26.60" fill="#000"/>
<line x1="69.70" y1="369.70" x2="69.70" y2="367.40" stroke="#1c1c1c" stroke-width="1.0"/>
<line x1="67.90" y1="367.40" x2="71.50" y2="367.40" stroke="#1c1c1c" stroke-width="1.0"/>
<text x="69.70" y="364.89" font-size="9.4" text-anchor="middle" stroke="#1c1c1c">**</text>
<text x="72.30" y="401.90" font-size="9.0" text-anchor="end" stroke="#1c1c1c" transform="rotate(-45 72.30 401.90)">Calu6</text>
<rect x="77.00" y="365.00" width="7.00" height="31.30" fill="#000"/>
<line x1="80.50" y1="365.00" x2="80.50" y2="354.20" stroke="#1c1c1c" stroke-width="1.0"/>
<line x1="78.70" y1="354.20" x2="82.30" y2="354.20" stroke="#1c1c1c" stroke-width="1.0"/>
<text x="80.50" y="354.39" font-size="9.4" text-anchor="middle" stroke="#1c1c1c">*</text>
<text x="83.10" y="401.90" font-size="9.0" text-anchor="end" stroke="#1c1c1c" transform="rotate(-45 83.10 401.90)">H1975</text>
<rect x="88.00" y="364.00" width="7.30" height="32.30" fill="#000"/>
<line x1="91.65" y1="364.00" x2="91.65" y2="356.10" stroke="#1c1c1c" stroke-width="1.0"/>
<line x1="89.85" y1="356.10" x2="93.45" y2="356.10" stroke="#1c1c1c" stroke-width="1.0"/>
<text x="91.65" y="354.89" font-size="9.4" text-anchor="middle" stroke="#1c1c1c">*</text>
<text x="94.25" y="401.90" font-size="9.0" text-anchor="end" stroke="#1c1c1c" transform="rotate(-45 94.25 401.90)">SW900</text>
<text x="15.40" y="354.60" font-size="8.8" text-anchor="middle" stroke="#1c1c1c" textLength="74.50" lengthAdjust="spacingAndGlyphs" transform="rotate(-90 15.40 354.60)">Decrease in TET1</text>
<text x="23.50" y="355.00" font-size="8.8" text-anchor="middle" stroke="#1c1c1c" textLength="78.10" lengthAdjust="spacingAndGlyphs" transform="rotate(-90 23.50 355.00)">expression relative</text>
<text x="30.20" y="353.00" font-size="8.8" text-anchor="middle" stroke="#1c1c1c" textLength="73.50" lengthAdjust="spacingAndGlyphs" transform="rotate(-90 30.20 353.00)">to control cells(%)</text>
<text x="104.90" y="304.40" font-size="12.4" fill="#000" stroke="#000" font-weight="bold">I</text>
<line x1="160.20" y1="311.40" x2="160.20" y2="394.30" stroke="#1c1c1c" stroke-width="1.0"/>
<line x1="158.20" y1="394.30" x2="160.20" y2="394.30" stroke="#1c1c1c" stroke-width="1.0"/>
<text x="157.00" y="397.59" font-size="9.27" text-anchor="end" stroke="#1c1c1c" textLength="5.00" lengthAdjust="spacingAndGlyphs">0</text>
<line x1="158.20" y1="380.48" x2="160.20" y2="380.48" stroke="#1c1c1c" stroke-width="1.0"/>
<text x="157.00" y="383.77" font-size="9.27" text-anchor="end" stroke="#1c1c1c" textLength="12.51" lengthAdjust="spacingAndGlyphs">0.5</text>
<line x1="158.20" y1="366.67" x2="160.20" y2="366.67" stroke="#1c1c1c" stroke-width="1.0"/>
<text x="157.00" y="369.96" font-size="9.27" text-anchor="end" stroke="#1c1c1c" textLength="5.00" lengthAdjust="spacingAndGlyphs">1</text>
<line x1="158.20" y1="352.85" x2="160.20" y2="352.85" stroke="#1c1c1c" stroke-width="1.0"/>
<text x="157.00" y="356.14" font-size="9.27" text-anchor="end" stroke="#1c1c1c" textLength="12.51" lengthAdjust="spacingAndGlyphs">1.5</text>
<line x1="158.20" y1="339.03" x2="160.20" y2="339.03" stroke="#1c1c1c" stroke-width="1.0"/>
<text x="157.00" y="342.32" font-size="9.27" text-anchor="end" stroke="#1c1c1c" textLength="5.00" lengthAdjust="spacingAndGlyphs">2</text>
<line x1="158.20" y1="325.22" x2="160.20" y2="325.22" stroke="#1c1c1c" stroke-width="1.0"/>
<text x="157.00" y="328.51" font-size="9.27" text-anchor="end" stroke="#1c1c1c" textLength="12.51" lengthAdjust="spacingAndGlyphs">2.5</text>
<line x1="158.20" y1="311.40" x2="160.20" y2="311.40" stroke="#1c1c1c" stroke-width="1.0"/>
<text x="157.00" y="314.69" font-size="9.27" text-anchor="end" stroke="#1c1c1c" textLength="5.00" lengthAdjust="spacingAndGlyphs">3</text>
<line x1="160.20" y1="394.30" x2="198.50" y2="394.30" stroke="#1c1c1c" stroke-width="1.0"/>
<rect x="167.00" y="329.40" width="7.20" height="64.90" fill="#000"/>
<line x1="170.60" y1="329.40" x2="170.60" y2="322.30" stroke="#1c1c1c" stroke-width="1.0"/>
<line x1="168.80" y1="322.30" x2="172.40" y2="322.30" stroke="#1c1c1c" stroke-width="1.0"/>
<text x="170.60" y="322.39" font-size="9.4" text-anchor="middle" stroke="#1c1c1c">***</text>
<text x="174.20" y="400.60" font-size="9.2" text-anchor="end" stroke="#1c1c1c" transform="rotate(-45 174.20 400.60)">A549</text>
<rect x="178.10" y="346.10" width="6.80" height="48.20" fill="#000"/>
<line x1="181.50" y1="346.10" x2="181.50" y2="343.00" stroke="#1c1c1c" stroke-width="1.0"/>
<line x1="179.70" y1="343.00" x2="183.30" y2="343.00" stroke="#1c1c1c" stroke-width="1.0"/>
<text x="181.50" y="339.99" font-size="9.4" text-anchor="middle" stroke="#1c1c1c">*</text>
<text x="186.00" y="400.60" font-size="9.2" text-anchor="end" stroke="#1c1c1c" transform="rotate(-45 186.00 400.60)">H2228</text>
<rect x="189.20" y="352.50" width="6.90" height="41.80" fill="#000"/>
<line x1="192.65" y1="352.50" x2="192.65" y2="351.30" stroke="#1c1c1c" stroke-width="1.0"/>
<line x1="190.85" y1="351.30" x2="194.45" y2="351.30" stroke="#1c1c1c" stroke-width="1.0"/>
<text x="192.65" y="348.89" font-size="9.4" text-anchor="middle" stroke="#1c1c1c">**</text>
<text x="198.05" y="400.60" font-size="9.2" text-anchor="end" stroke="#1c1c1c" transform="rotate(-45 198.05 400.60)">H2023</text>
<text x="125.40" y="355.25" font-size="8.8" text-anchor="middle" stroke="#1c1c1c" textLength="91.00" lengthAdjust="spacingAndGlyphs" transform="rotate(-90 125.40 355.25)">Fold increase in TET1</text>
<text x="133.60" y="355.25" font-size="8.8" text-anchor="middle" stroke="#1c1c1c" textLength="77.60" lengthAdjust="spacingAndGlyphs" transform="rotate(-90 133.60 355.25)">expression relative</text>
<text x="140.80" y="353.65" font-size="8.8" text-anchor="middle" stroke="#1c1c1c" textLength="59.60" lengthAdjust="spacingAndGlyphs" transform="rotate(-90 140.80 353.65)">to control cells</text>
</svg>
</body></html>
